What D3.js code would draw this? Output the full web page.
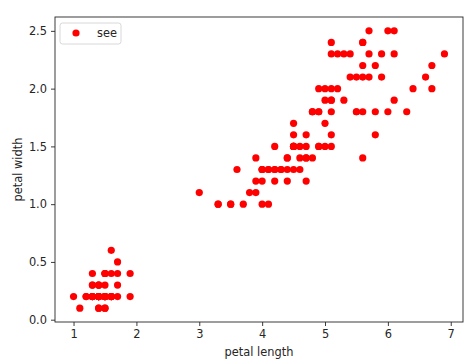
<!DOCTYPE html>
<html lang="en">
<head>
<meta charset="UTF-8">
<title>petal scatter</title>
<script src="https://d3js.org/d3.v7.min.js"></script>
<style>
  body { margin: 0; background: #fff; font-family: "DejaVu Sans", sans-serif; }
  .axis text { font-size: 11.4px; fill: #262626; font-family: "DejaVu Sans", sans-serif; }
  .axis path, .axis line { stroke: #262626; stroke-width: 0.9; }
</style>
</head>
<body>
<div id="chart"></div>
<script>
// iris petal measurements
const petalLength = [
  1.4,1.4,1.3,1.5,1.4,1.7,1.4,1.5,1.4,1.5,1.5,1.6,1.4,1.1,1.2,1.5,1.3,1.4,1.7,1.5,
  1.7,1.5,1.0,1.7,1.9,1.6,1.6,1.5,1.4,1.6,1.6,1.5,1.5,1.4,1.5,1.2,1.3,1.4,1.3,1.5,
  1.3,1.3,1.3,1.6,1.9,1.4,1.6,1.4,1.5,1.4,
  4.7,4.5,4.9,4.0,4.6,4.5,4.7,3.3,4.6,3.9,3.5,4.2,4.0,4.7,3.6,4.4,4.5,4.1,4.5,3.9,
  4.8,4.0,4.9,4.7,4.3,4.4,4.8,5.0,4.5,3.5,3.8,3.7,3.9,5.1,4.5,4.5,4.7,4.4,4.1,4.0,
  4.4,4.6,4.0,3.3,4.2,4.2,4.2,4.3,3.0,4.1,
  6.0,5.1,5.9,5.6,5.8,6.6,4.5,6.3,5.8,6.1,5.1,5.3,5.5,5.0,5.1,5.3,5.5,6.7,6.9,5.0,
  5.7,4.9,6.7,4.9,5.7,6.0,4.8,4.9,5.6,5.8,6.1,6.4,5.6,5.1,5.6,6.1,5.6,5.5,4.8,5.4,
  5.6,5.1,5.1,5.9,5.7,5.2,5.0,5.2,5.4,5.1
];
const petalWidth = [
  0.2,0.2,0.2,0.2,0.2,0.4,0.3,0.2,0.2,0.1,0.2,0.2,0.1,0.1,0.2,0.4,0.4,0.3,0.3,0.3,
  0.2,0.4,0.2,0.5,0.2,0.2,0.4,0.2,0.2,0.2,0.2,0.4,0.1,0.2,0.2,0.2,0.2,0.1,0.2,0.2,
  0.3,0.3,0.2,0.6,0.4,0.3,0.2,0.2,0.2,0.2,
  1.4,1.5,1.5,1.3,1.5,1.3,1.6,1.0,1.3,1.4,1.0,1.5,1.0,1.4,1.3,1.4,1.5,1.0,1.5,1.1,
  1.8,1.3,1.5,1.2,1.3,1.4,1.4,1.7,1.5,1.0,1.1,1.0,1.2,1.6,1.5,1.6,1.5,1.3,1.3,1.3,
  1.2,1.4,1.2,1.0,1.3,1.2,1.3,1.3,1.1,1.3,
  2.5,1.9,2.1,1.8,2.2,2.1,1.7,1.8,1.8,2.5,2.0,1.9,2.1,2.0,2.4,2.3,1.8,2.2,2.3,1.5,
  2.3,2.0,2.0,1.8,2.1,1.8,1.8,1.8,2.1,1.6,1.9,2.0,2.2,1.5,1.4,2.3,2.4,1.8,1.8,2.1,
  2.4,2.3,1.9,2.3,2.5,2.3,1.9,2.0,2.3,1.8
];
const xTicks = [1, 2, 3, 4, 5, 6, 7];
const yTicks = [0.0, 0.5, 1.0, 1.5, 2.0, 2.5];
const seriesLabel = "see";

const W = 473, H = 363;
const margin = { top: 17, right: 10, bottom: 41, left: 55 };
const width = W - margin.left - margin.right;
const height = H - margin.top - margin.bottom;

const points = petalLength.map((v, i) => ({ x: v, y: petalWidth[i] }));

// matplotlib-style 5% padding
const xExt = d3.extent(petalLength), yExt = d3.extent(petalWidth);
const xPad = (xExt[1] - xExt[0]) * 0.05, yPad = (yExt[1] - yExt[0]) * 0.05;

const x = d3.scaleLinear().domain([xExt[0] - xPad, xExt[1] + xPad]).range([0, width]);
const y = d3.scaleLinear().domain([yExt[0] - yPad, yExt[1] + yPad]).range([height, 0]);

const svg = d3.select("#chart").append("svg")
  .attr("width", W).attr("height", H)
  .append("g")
  .attr("transform", `translate(${margin.left},${margin.top})`);

svg.append("g")
  .attr("class", "axis")
  .attr("transform", `translate(0,${height})`)
  .call(d3.axisBottom(x).tickValues(xTicks).tickFormat(d3.format("d")).tickSize(4).tickPadding(4))
  .call(g => g.select(".domain").remove());

svg.append("g")
  .attr("class", "axis")
  .call(d3.axisLeft(y).tickValues(yTicks).tickFormat(d3.format(".1f")).tickSize(4).tickPadding(4))
  .call(g => g.select(".domain").remove());

svg.append("g")
  .selectAll("circle")
  .data(points)
  .join("circle")
  .attr("cx", d => x(d.x))
  .attr("cy", d => y(d.y))
  .attr("r", 3.6)
  .attr("fill", "#ff0000");

// frame
svg.append("rect")
  .attr("width", width).attr("height", height)
  .attr("fill", "none").attr("stroke", "#262626").attr("stroke-width", 0.9);

// legend
const lg = svg.append("g").attr("transform", "translate(5,6)");
lg.append("rect")
  .attr("width", 61).attr("height", 21).attr("rx", 2.5)
  .attr("fill", "#fff").attr("fill-opacity", 0.8)
  .attr("stroke", "#d4d4d4").attr("stroke-width", 0.9);
lg.append("circle").attr("cx", 16).attr("cy", 10).attr("r", 3.6).attr("fill", "#ff0000");
lg.append("text").attr("x", 37).attr("y", 14)
  .style("font-size", "11.4px").attr("fill", "#262626").text(seriesLabel);

// axis labels
svg.append("text")
  .attr("x", width / 2).attr("y", height + 34)
  .attr("text-anchor", "middle")
  .style("font-size", "11.4px").attr("fill", "#262626")
  .text("petal length");

svg.append("text")
  .attr("transform", "rotate(-90)")
  .attr("x", -height / 2).attr("y", -33)
  .attr("text-anchor", "middle")
  .style("font-size", "11.4px").attr("fill", "#262626")
  .text("petal width");
</script>
</body>
</html>
